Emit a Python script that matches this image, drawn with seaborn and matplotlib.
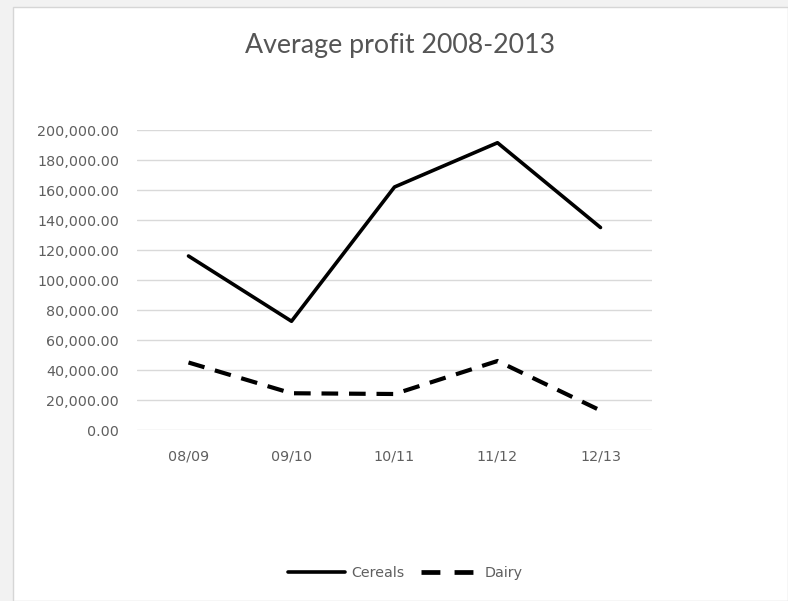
import matplotlib
matplotlib.use("Agg")
import matplotlib.pyplot as plt
import matplotlib.patches as mpatches
import matplotlib.ticker as mticker
import pandas as pd
import seaborn as sns

seasons = ["08/09", "09/10", "10/11", "11/12", "12/13"]
cereals = [116000, 72500, 162000, 191500, 135000]
dairy = [45000, 24500, 24000, 46000, 13000]

df = pd.DataFrame({
    "season": seasons * 2,
    "profit": cereals + dairy,
    "sector": ["Cereals"] * len(seasons) + ["Dairy"] * len(seasons),
})

sns.set_theme(style="white")
plt.rcParams["font.family"] = ["DejaVu Sans"]

fig = plt.figure(figsize=(7.88, 6.01), dpi=100)
fig.patch.set_facecolor("#f2f2f2")
fig.patches.append(mpatches.Rectangle((13 / 788, 0), 1 - 13 / 788, 1 - 7 / 601,
                                      transform=fig.transFigure, facecolor="white",
                                      edgecolor="#d6d6d6", linewidth=1, zorder=-10))

ax = fig.add_axes([137 / 788, 1 - 430 / 601, 515 / 788, 300 / 601])
ax.set_facecolor("none")

sns.lineplot(data=df, x="season", y="profit", hue="sector", style="sector",
             palette={"Cereals": "black", "Dairy": "black"},
             dashes={"Cereals": "", "Dairy": (4, 2.6)},
             linewidth=2.6, sort=False, ax=ax, legend=False)
ax.lines[1].set_linewidth(3.0)

ax.set_xlim(-0.5, len(seasons) - 0.5)
ax.set_ylim(0, 200000)
ax.yaxis.set_major_locator(mticker.MultipleLocator(20000))
ax.yaxis.set_major_formatter(mticker.FuncFormatter(lambda v, p: f"{v:,.2f}"))
ax.grid(axis="y", color="#d9d9d9", linewidth=1)
ax.grid(axis="x", visible=False)
for s in ax.spines.values():
    s.set_visible(False)
ax.tick_params(axis="both", length=0, labelsize=10.3, colors="#5f5f5f")
ax.tick_params(axis="y", pad=13)
ax.tick_params(axis="x", pad=14)
ax.set_xlabel("")
ax.set_ylabel("")

fig.text(400 / 788, 1 - 45 / 601, "Average profit 2008-2013", ha="center", va="center",
         fontsize=19.3, color="#555555", family=["Lato", "DejaVu Sans"])

handles = [
    plt.Line2D([], [], color="black", linewidth=2.6),
    plt.Line2D([], [], color="black", linewidth=3.4, dashes=(4, 3)),
]
fig.legend(handles, ["Cereals", "Dairy"], loc="center", bbox_to_anchor=(405 / 788, 1 - 573 / 601),
           ncol=2, frameon=False, fontsize=10.3, labelcolor="#5f5f5f",
           handlelength=4, handletextpad=0.4, columnspacing=1.2)

fig.savefig("out.png", dpi=100, facecolor=fig.get_facecolor())
